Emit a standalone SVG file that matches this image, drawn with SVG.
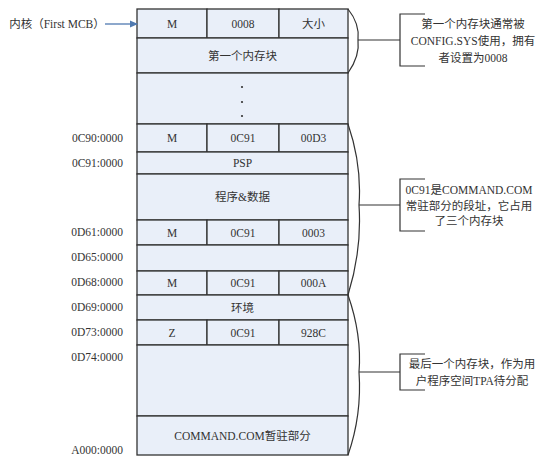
<svg xmlns="http://www.w3.org/2000/svg" width="558" height="462" viewBox="0 0 558 462">
<defs>
<style>
.cell{fill:#e9eff9;stroke:#333;stroke-width:1.3}
.t{font-family:"Liberation Serif","Noto Sans CJK SC",serif;font-size:11.5px;fill:#333;text-anchor:middle;dominant-baseline:central}
.lbl{font-family:"Liberation Serif","Noto Sans CJK SC",serif;font-size:11.5px;fill:#333;text-anchor:end;dominant-baseline:central}
.note{font-family:"Liberation Serif","Noto Sans CJK SC",serif;font-size:11.5px;fill:#333;text-anchor:middle;dominant-baseline:central}
.ln{fill:none;stroke:#333;stroke-width:1.2}
</style>
<marker id="ah" markerWidth="8" markerHeight="8" refX="7" refY="4" orient="auto" markerUnits="userSpaceOnUse">
<path d="M0,0.5 L8,4 L0,7.5 Z" fill="#4f79b0"/>
</marker>
</defs>
<rect width="558" height="462" fill="#fff"/>

<g id="table">
<g id="row-mcb1">
<rect class="cell" x="137" y="9" width="70" height="29"/>
<rect class="cell" x="207" y="9" width="72" height="29"/>
<rect class="cell" x="279" y="9" width="69" height="29"/>
<text class="t" x="172" y="23.5">M</text>
<text class="t" x="243" y="23.5">0008</text>
<text class="t" x="313.5" y="23.5">大小</text>
</g>
<g id="row-block1">
<rect class="cell" x="137" y="38" width="211" height="35"/>
<text class="t" x="242.5" y="55.5">第一个内存块</text>
</g>
<g id="row-dots">
<rect class="cell" x="137" y="73" width="211" height="51"/>
<circle cx="242" cy="87" r="1.1" fill="#333"/>
<circle cx="242" cy="102" r="1.1" fill="#333"/>
<circle cx="242" cy="116" r="1.1" fill="#333"/>
</g>
<g id="row-mcb-0C90">
<rect class="cell" x="137" y="124" width="70" height="28"/>
<rect class="cell" x="207" y="124" width="72" height="28"/>
<rect class="cell" x="279" y="124" width="69" height="28"/>
<text class="t" x="172" y="138">M</text>
<text class="t" x="243" y="138">0C91</text>
<text class="t" x="313.5" y="138">00D3</text>
</g>
<g id="row-psp">
<rect class="cell" x="137" y="152" width="211" height="22"/>
<text class="t" x="242.5" y="163">PSP</text>
</g>
<g id="row-prog">
<rect class="cell" x="137" y="174" width="211" height="46"/>
<text class="t" x="242.5" y="197">程序&amp;数据</text>
</g>
<g id="row-mcb-0D61">
<rect class="cell" x="137" y="220" width="70" height="25"/>
<rect class="cell" x="207" y="220" width="72" height="25"/>
<rect class="cell" x="279" y="220" width="69" height="25"/>
<text class="t" x="172" y="232.5">M</text>
<text class="t" x="243" y="232.5">0C91</text>
<text class="t" x="313.5" y="232.5">0003</text>
</g>
<g id="row-0D65">
<rect class="cell" x="137" y="245" width="211" height="26"/>
</g>
<g id="row-mcb-0D68">
<rect class="cell" x="137" y="271" width="70" height="24"/>
<rect class="cell" x="207" y="271" width="72" height="24"/>
<rect class="cell" x="279" y="271" width="69" height="24"/>
<text class="t" x="172" y="283">M</text>
<text class="t" x="243" y="283">0C91</text>
<text class="t" x="313.5" y="283">000A</text>
</g>
<g id="row-env">
<rect class="cell" x="137" y="295" width="211" height="25"/>
<text class="t" x="242.5" y="307.5">环境</text>
</g>
<g id="row-mcb-0D73">
<rect class="cell" x="137" y="320" width="70" height="25"/>
<rect class="cell" x="207" y="320" width="72" height="25"/>
<rect class="cell" x="279" y="320" width="69" height="25"/>
<text class="t" x="172" y="332.5">Z</text>
<text class="t" x="243" y="332.5">0C91</text>
<text class="t" x="313.5" y="332.5">928C</text>
</g>
<g id="row-tpa">
<rect class="cell" x="137" y="345" width="211" height="71"/>
</g>
<g id="row-cmd">
<rect class="cell" x="137" y="416" width="211" height="39"/>
<text class="t" x="242.5" y="435.5">COMMAND.COM暂驻部分</text>
</g>
</g>

<g id="addresses">
<text class="lbl" x="123" y="138">0C90:0000</text>
<text class="lbl" x="123" y="163">0C91:0000</text>
<text class="lbl" x="123" y="232">0D61:0000</text>
<text class="lbl" x="123" y="257">0D65:0000</text>
<text class="lbl" x="123" y="282">0D68:0000</text>
<text class="lbl" x="123" y="307">0D69:0000</text>
<text class="lbl" x="123" y="332">0D73:0000</text>
<text class="lbl" x="123" y="357">0D74:0000</text>
<text class="lbl" x="123" y="450">A000:0000</text>
</g>

<g id="kernel">
<text class="t" x="57" y="24">内核（First MCB）</text>
</g>

<g id="note1">
<text class="note" x="473" y="24">第一个内存块通常被</text>
<text class="note" x="473" y="41">CONFIG.SYS使用，拥有</text>
<text class="note" x="473" y="58">者设置为0008</text>
</g>
<g id="note2">
<text class="note" x="469" y="190">0C91是COMMAND.COM</text>
<text class="note" x="469" y="206">常驻部分的段址，它占用</text>
<text class="note" x="469" y="221">了三个内存块</text>
</g>
<g id="note3">
<text class="note" x="472" y="364">最后一个内存块，作为用</text>
<text class="note" x="472" y="381">户程序空间TPA待分配</text>
</g>

<g id="connectors">
<line x1="105" y1="24" x2="137" y2="24" stroke="#4f79b0" stroke-width="1.3" marker-end="url(#ah)"/>
<path class="ln" d="M348,9 Q360,24 358,40 Q360,56 348,73"/>
<line class="ln" x1="358" y1="40" x2="400" y2="40"/>
<path class="ln" d="M425,14 L400,14 L400,66 L425,66"/>
<path class="ln" d="M348,124 Q362,165 359,205 Q362,250 348,295"/>
<line class="ln" x1="359" y1="205" x2="400" y2="205"/>
<path class="ln" d="M425,179 L400,179 L400,231 L425,231"/>
<path class="ln" d="M348,295 Q362,335 359,372 Q362,415 348,455"/>
<line class="ln" x1="359" y1="372" x2="400" y2="372"/>
<path class="ln" d="M425,354 L400,354 L400,390 L425,390"/>
</g>
</svg>
